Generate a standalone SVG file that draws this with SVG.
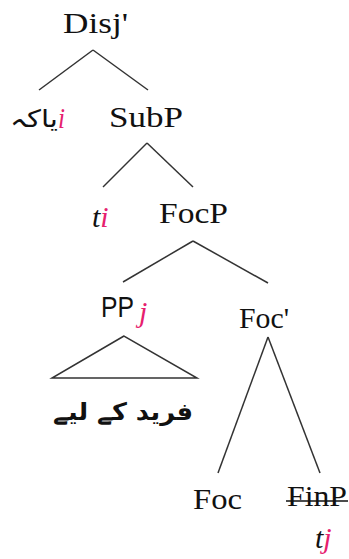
<svg xmlns="http://www.w3.org/2000/svg" width="349" height="559" viewBox="0 0 349 559">
<style>
.lbl{font-family:"Liberation Serif","Times New Roman",serif;font-size:30px;fill:#111}
.it{font-family:"Liberation Serif","Times New Roman",serif;font-size:30px;font-style:italic}
.pk{fill:#e6206e}
.dk{fill:#111}
.sans{font-family:"Liberation Sans",Arial,sans-serif;font-size:29px;fill:#111}
.ur{font-family:"DejaVu Sans","Noto Sans",sans-serif;fill:#111}
.edge{stroke:#333;stroke-width:1.5;fill:none}
</style>
<rect width="349" height="559" fill="#fff"/>
<g id="connectors">
<line class="edge" x1="93" y1="50" x2="39" y2="90"/>
<line class="edge" x1="93" y1="50" x2="148" y2="90"/>
<line class="edge" x1="147" y1="143" x2="103" y2="187"/>
<line class="edge" x1="147" y1="143" x2="193" y2="187"/>
<line class="edge" x1="193" y1="241" x2="123" y2="282"/>
<line class="edge" x1="193" y1="241" x2="268" y2="283"/>
<polygon class="edge" points="124,336 52,378 197,378"/>
<line class="edge" x1="268" y1="337" x2="218" y2="473"/>
<line class="edge" x1="268" y1="337" x2="320" y2="473"/>
</g>
<g id="disj">
<text class="lbl" x="63" y="33" textLength="65" lengthAdjust="spacingAndGlyphs">Disj'</text>
</g>
<g id="yakeh">
<text class="ur" x="10" y="127" font-size="24" textLength="48" lengthAdjust="spacingAndGlyphs">یاکہ</text>
<text class="it pk" x="58" y="128" textLength="7" lengthAdjust="spacingAndGlyphs">i</text>
</g>
<g id="subp">
<text class="lbl" x="109" y="127" textLength="74" lengthAdjust="spacingAndGlyphs">SubP</text>
</g>
<g id="ti">
<text class="it" x="92" y="227"><tspan class="dk">t</tspan><tspan class="pk">i</tspan></text>
</g>
<g id="focp">
<text class="lbl" x="159" y="223" textLength="69" lengthAdjust="spacingAndGlyphs">FocP</text>
</g>
<g id="ppj">
<text class="sans" x="101" y="317" textLength="33" lengthAdjust="spacingAndGlyphs">PP</text>
<text class="it pk" x="139" y="322" font-size="20">j</text>
</g>
<g id="foc-bar">
<text class="lbl" x="239" y="328" textLength="50" lengthAdjust="spacingAndGlyphs">Foc'</text>
</g>
<g id="farid">
<text class="ur" x="53" y="420" font-size="24" font-weight="bold" textLength="140" lengthAdjust="spacingAndGlyphs">فرید کے لیے</text>
</g>
<g id="foc">
<text class="lbl" x="193" y="509" textLength="49" lengthAdjust="spacingAndGlyphs">Foc</text>
</g>
<g id="finp">
<text class="lbl" x="287" y="506" textLength="60" lengthAdjust="spacingAndGlyphs">FinP</text>
<line x1="286" y1="501" x2="348" y2="501" stroke="#111" stroke-width="1.4"/>
<text class="it" x="315" y="548"><tspan class="dk">t</tspan><tspan class="pk">j</tspan></text>
</g>
</svg>
